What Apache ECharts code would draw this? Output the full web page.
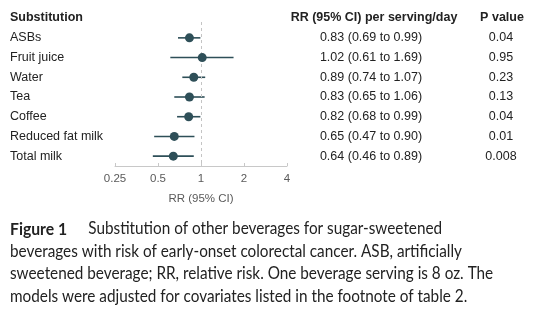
<!DOCTYPE html>
<html><head><meta charset="utf-8">
<script src="https://cdn.jsdelivr.net/npm/echarts@6/dist/echarts.min.js"></script>
<style>html,body{margin:0;padding:0;background:#fff}#c{width:550px;height:325px}</style>
</head><body><div id="c"></div>
<script>
const categories = ['ASBs','Fruit juice','Water','Tea','Coffee','Reduced fat milk','Total milk'];
const rr = [0.83, 1.02, 0.89, 0.83, 0.82, 0.65, 0.64];
const lower = [0.69, 0.61, 0.74, 0.65, 0.68, 0.47, 0.46];
const upper = [0.99, 1.69, 1.07, 1.06, 0.99, 0.90, 0.89];
const rrText = ['0.83 (0.69 to 0.99)','1.02 (0.61 to 1.69)','0.89 (0.74 to 1.07)','0.83 (0.65 to 1.06)','0.82 (0.68 to 0.99)','0.65 (0.47 to 0.90)','0.64 (0.46 to 0.89)'];
const pText = ['0.04','0.95','0.23','0.13','0.04','0.01','0.008'];
const xTicks = [0.25, 0.5, 1, 2, 4];
const captionLines = [
  'beverages with risk of early-onset colorectal cancer. ASB, artificially',
  'sweetened beverage; RR, relative risk. One beverage serving is 8 oz. The',
  'models were adjusted for covariates listed in the footnote of table 2.'
];
const col = '#2e4f58';
const chart = echarts.init(document.getElementById('c'));
const FF = 'Liberation Sans, Arial, sans-serif';
const txtFont = {fontFamily:FF, fontSize:12.5, color:'#222'};
const capFont = '17px Lato, sans-serif';
chart.setOption({
  animation:false,
  grid:{left:115, width:172, top:28, height:138},
  xAxis:{type:'log', logBase:2, min:0.25, max:4,
    axisLine:{show:true, lineStyle:{color:'#c8c8c8'}},
    axisTick:{show:true, inside:true, length:3, lineStyle:{color:'#c8c8c8'}},
    splitLine:{show:false}, minorTick:{show:false},
    axisLabel:{color:'#5a5a5a', fontFamily:FF, fontSize:11.5, margin:7,
      formatter:v=>xTicks.includes(+v.toFixed(2))?String(+v.toFixed(2)):''},
    name:'RR (95% CI)', nameLocation:'middle', nameGap:27,
    nameTextStyle:{color:'#5a5a5a', fontFamily:FF, fontSize:11.5}
  },
  yAxis:[
    {type:'category', data:categories, inverse:true, axisLine:{show:false}, axisTick:{show:false},
      axisLabel:Object.assign({align:'left', margin:105}, txtFont)},
    {type:'category', data:rrText, inverse:true, position:'right', axisLine:{show:false}, axisTick:{show:false},
      axisLabel:Object.assign({align:'center', margin:84}, txtFont)},
    {type:'category', data:pText, inverse:true, position:'right', offset:130, axisLine:{show:false}, axisTick:{show:false},
      axisLabel:Object.assign({align:'center', margin:84}, txtFont)}
  ],
  series:[
    {type:'custom', xAxisIndex:0, yAxisIndex:0,
      data:categories.map((c,i)=>[lower[i], i, upper[i]]),
      renderItem:(params, api)=>{
        const a = api.coord([api.value(0), api.value(1)]);
        const b = api.coord([api.value(2), api.value(1)]);
        return {type:'line', shape:{x1:a[0], y1:a[1], x2:b[0], y2:b[1]}, style:{stroke:col, lineWidth:1.6}};
      }
    },
    {type:'scatter', xAxisIndex:0, yAxisIndex:0, data:categories.map((c,i)=>[rr[i], i]), symbolSize:9, itemStyle:{color:col, opacity:1}, z:5,
      markLine:{silent:true, symbol:'none', label:{show:false},
        lineStyle:{color:'#c4c4c4', type:[3,3], width:1}, data:[[{xAxis:1, y:22}, {xAxis:1, y:166}]]}
    },
    {type:'scatter', xAxisIndex:0, yAxisIndex:1, data:[], silent:true},
    {type:'scatter', xAxisIndex:0, yAxisIndex:2, data:[], silent:true}
  ],
  graphic:[
    {type:'text', x:10, y:18, style:{text:'Substitution', font:'bold 12.5px Liberation Sans, Arial, sans-serif', fill:'#222', verticalAlign:'middle'}},
    {type:'text', x:374, y:18, style:{text:'RR (95% CI) per serving/day', font:'bold 12.5px Liberation Sans, Arial, sans-serif', fill:'#222', align:'center', verticalAlign:'middle'}},
    {type:'text', x:502, y:18, style:{text:'P value', font:'bold 12.5px Liberation Sans, Arial, sans-serif', fill:'#222', align:'center', verticalAlign:'middle'}},
    {type:'group', x:10, y:0, scaleX:0.9, children:[
      {type:'text', x:0, y:229, style:{text:'{b|Figure 1}', font:capFont, fill:'#222', verticalAlign:'middle', rich:{b:{fontWeight:'bold', fontSize:17.5, fontFamily:'Lato, sans-serif'}}}},
      {type:'text', x:87, y:229, style:{text:'Substitution of other beverages for sugar-sweetened', font:capFont, fill:'#222', verticalAlign:'middle'}},
      {type:'text', x:0, y:251.5, style:{text:captionLines[0], font:capFont, fill:'#222', verticalAlign:'middle'}},
      {type:'text', x:0, y:274, style:{text:captionLines[1], font:capFont, fill:'#222', verticalAlign:'middle'}},
      {type:'text', x:0, y:296.5, style:{text:captionLines[2], font:capFont, fill:'#222', verticalAlign:'middle'}}
    ]}
  ]
});
</script></body></html>
